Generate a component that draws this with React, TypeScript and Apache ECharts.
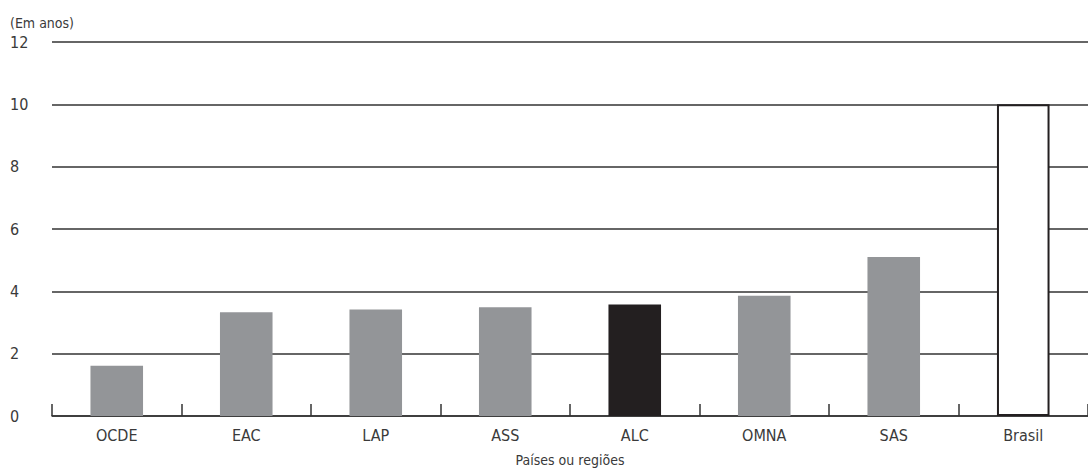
import React, { useEffect, useRef } from "react";
import * as echarts from "echarts";

const categories = ["OCDE", "EAC", "LAP", "ASS", "ALC", "OMNA", "SAS", "Brasil"];
const values = [1.61, 3.33, 3.42, 3.49, 3.58, 3.86, 5.1, 10];
const yTicks = [0, 2, 4, 6, 8, 10, 12];
const unitLabel = "(Em anos)";
const xAxisTitle = "Países ou regiões";

const FONT = "'DejaVu Sans Condensed', 'Liberation Sans Narrow', sans-serif";

export default function App() {
  const ref = useRef<HTMLDivElement>(null);
  useEffect(() => {
    document.body.style.margin = "0";
    const chart = echarts.init(ref.current!, null, { renderer: "svg" });
    const barData = values.map((v, i) => {
      if (categories[i] === "Brasil") {
        return { value: v, itemStyle: { color: "#ffffff", borderColor: "#231f20", borderWidth: 2 } };
      }
      if (categories[i] === "ALC") {
        return { value: v, itemStyle: { color: "#231f20" } };
      }
      return { value: v, itemStyle: { color: "#939598" } };
    });
    chart.setOption({
      animation: false,
      grid: { left: 52, right: -8, top: 42, bottom: 52, containLabel: false },
      graphic: [
        {
          type: "text",
          left: 10,
          top: 16,
          style: { text: unitLabel, fontSize: 14, fill: "#3a3a3a", fontFamily: FONT },
        },
      ],
      xAxis: {
        type: "category",
        data: categories,
        boundaryGap: true,
        name: xAxisTitle,
        nameLocation: "middle",
        nameGap: 37,
        nameTextStyle: { fontSize: 14, color: "#3a3a3a", fontFamily: FONT },
        axisLine: { lineStyle: { color: "#333", width: 1.5 } },
        axisTick: { show: true, inside: true, length: 12, lineStyle: { color: "#333", width: 1.5 } },
        axisLabel: { fontSize: 16, color: "#3a3a3a", margin: 11, fontFamily: FONT },
      },
      yAxis: {
        type: "value",
        min: 0,
        max: 12,
        interval: 2,
        axisLine: { show: false },
        axisTick: { show: false },
        axisLabel: {
          fontSize: 16,
          color: "#3a3a3a",
          align: "left",
          margin: 42,
          fontFamily: FONT,
          formatter: (v: number) => (yTicks.includes(v) ? String(v) : ""),
        },
        splitLine: { lineStyle: { color: "#333", width: 1.5 } },
      },
      series: [
        {
          type: "bar",
          data: barData,
          barWidth: "40.6%",
        },
      ],
    });
    return () => chart.dispose();
  }, []);
  return (
    <div
      ref={ref}
      style={{ width: 1088, height: 472, position: "absolute", left: 0, top: 0, background: "#fff" }}
    />
  );
}
